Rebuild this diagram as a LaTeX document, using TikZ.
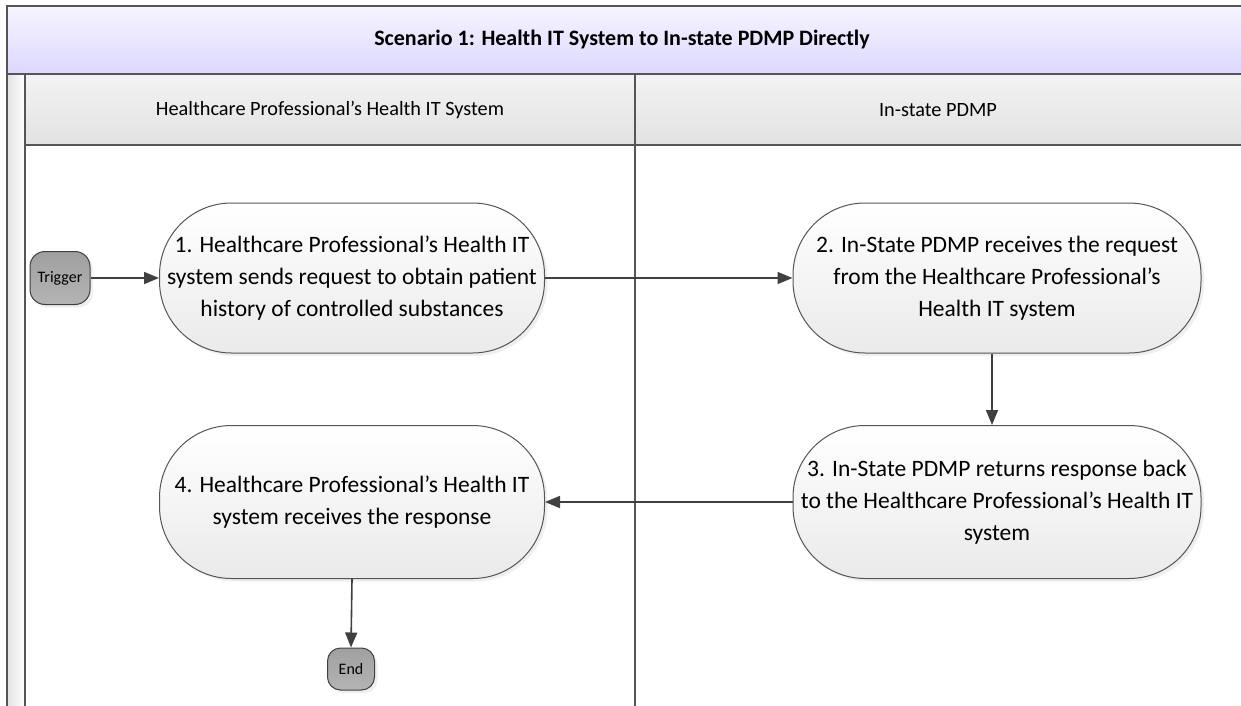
\documentclass[tikz,border=0pt]{standalone}
\usepackage{fontspec}
\setmainfont{Carlito}
\usetikzlibrary{arrows.meta,shadows}
\definecolor{lineg}{HTML}{555555}
\definecolor{arrg}{HTML}{404040}
\definecolor{titletop}{HTML}{F6F4FF}
\definecolor{titlebot}{HTML}{DCD8FF}
\definecolor{hdrtop}{HTML}{F3F3F3}
\definecolor{hdrbot}{HTML}{E2E2E2}
\definecolor{nodebot}{HTML}{EAEAEA}
\definecolor{termtop}{HTML}{A0A0A0}
\definecolor{termbot}{HTML}{B4B4B4}
\tikzset{
  frame/.style={draw=lineg, line width=2pt},
  stepbox/.style={draw=lineg, line width=1pt, rounded corners=72pt,
    top color=white, bottom color=nodebot,
    minimum width=385pt, minimum height=150pt, align=center,
    font=\fontsize{23.5pt}{32pt}\selectfont, inner sep=0pt,
    drop shadow={opacity=0.12, shadow xshift=3pt, shadow yshift=-3pt}},
  termbox/.style={draw=arrg, line width=1pt, rounded corners=15pt,
    top color=termtop, bottom color=termbot, inner sep=0pt,
    font=\fontsize{16pt}{18pt}\selectfont,
    drop shadow={opacity=0.12, shadow xshift=3pt, shadow yshift=-3pt}},
  flow/.style={draw=arrg, line width=1.6pt, -{Triangle[length=15pt,width=12pt]}},
}
\begin{document}
\begin{tikzpicture}[x=1pt,y=-1pt]
\useasboundingbox (0,0) rectangle (1241,706);
\fill[white] (0,0) rectangle (1241,706);
% title band
\shade[top color=titletop, bottom color=titlebot] (7,6) rectangle (1241,74);
\node[font=\bfseries\fontsize{22pt}{26pt}\selectfont] (title) at (622,40) {Scenario 1: Health IT System to In-state PDMP Directly};
% lane headers
\shade[top color=hdrtop, bottom color=hdrbot] (25,74) rectangle (1241,145);
\node[font=\fontsize{20.3pt}{24pt}\selectfont] (hl) at (330,110) {Healthcare Professional’s Health IT System};
\node[font=\fontsize{20.3pt}{24pt}\selectfont] (hr) at (938,110) {In-state PDMP};
% left strip
\shade[left color=hdrbot, right color=white] (7,74) rectangle (25,706);
% frame lines
\draw[frame] (1241,6) -- (7,6) -- (7,706);
\draw[frame] (7,74) -- (1241,74);
\draw[frame] (25,74) -- (25,706);
\draw[frame] (25,145) -- (1241,145);
\draw[frame] (635,74) -- (635,706);
% nodes
\node[termbox, minimum width=60pt, minimum height=53pt] (trig) at (60,278) {Trigger};
\node[stepbox] (s1) at (352,278) {1. Healthcare Professional’s Health IT\\system sends request to obtain patient\\history of controlled substances};
\node[stepbox, minimum width=408pt] (s2) at (997,278) {2. In-State PDMP receives the request\\from the Healthcare Professional’s\\Health IT system};
\node[stepbox, minimum width=408pt, minimum height=153pt] (s3) at (997,502) {3. In-State PDMP returns response back\\to the Healthcare Professional’s Health IT\\system};
\node[stepbox, minimum height=153pt] (s4) at (352,502) {4. Healthcare Professional’s Health IT\\system receives the response};
\node[termbox, minimum width=47pt, minimum height=42pt, rounded corners=13pt] (end) at (351,669) {End};
% connectors
\draw[flow] (trig.east) -- (s1.west);
\draw[flow] (s1.east) -- (s2.west);
\draw[flow] ([xshift=-5pt]s2.south) -- ([xshift=-5pt]s3.north);
\draw[flow] (s3.west) -- (s4.east);
\draw[flow] (s4.south) -- (end.north);
\end{tikzpicture}
\end{document}
